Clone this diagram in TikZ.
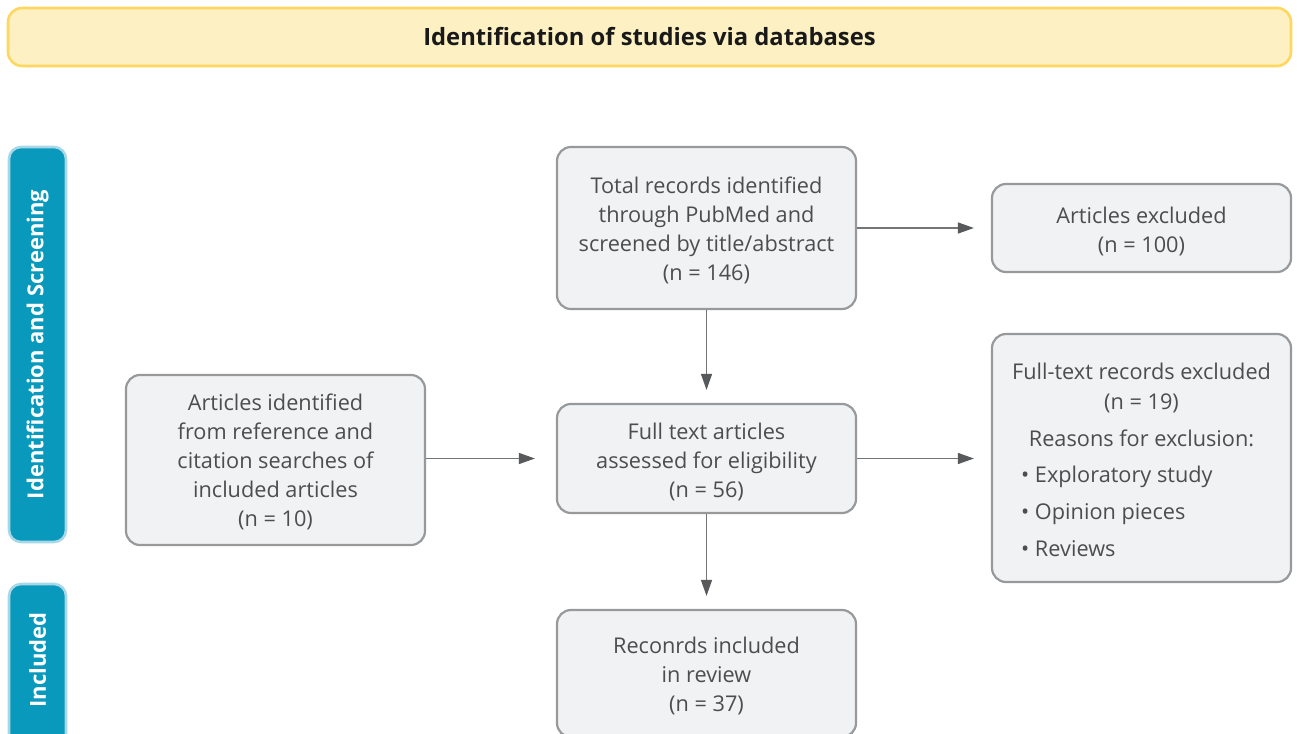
\documentclass[tikz,border=0pt]{standalone}
\usepackage{fontspec}
\setmainfont{Open Sans}
\usetikzlibrary{arrows.meta}
\definecolor{hdrfill}{HTML}{FDF1C4}
\definecolor{hdrline}{HTML}{FFD75E}
\definecolor{barfill}{HTML}{0899BC}
\definecolor{barline}{HTML}{A8D8E8}
\definecolor{boxfill}{HTML}{F1F2F4}
\definecolor{boxline}{HTML}{98999B}
\definecolor{boxtext}{HTML}{4D4D4F}
\definecolor{arrowcol}{HTML}{58595B}
\definecolor{shaftcol}{HTML}{747577}
\begin{document}
\begin{tikzpicture}[x=1pt,y=1pt,
  header/.style={draw=hdrline, line width=2.6pt, fill=hdrfill, rounded corners=14pt,
    minimum width=1283pt, minimum height=58pt, inner sep=0pt,
    font=\fontsize{23.8}{28}\selectfont\bfseries, text=black!90},
  phase/.style={draw=barline, line width=2.6pt, fill=barfill, rounded corners=12pt,
    rotate=90, minimum height=57pt, inner sep=0pt, text=white,
    font=\fontsize{22}{26}\selectfont\bfseries},
  stepbox/.style={draw=boxline, line width=2.2pt, fill=boxfill, rounded corners=14pt,
    minimum width=299pt, inner sep=0pt, align=center, text=boxtext,
    font=\fontsize{21.7}{29}\selectfont},
  boxtxt/.style={align=center, text=boxtext, inner sep=0pt,
    font=\fontsize{21.7}{29}\selectfont},
  boxline/.style={text=boxtext, font=\fontsize{21.7}{26}\selectfont, inner sep=0pt},
  arr/.style={draw=shaftcol, line width=1.3pt,
    -{Triangle[length=16pt,width=11pt,color=arrowcol]}}
]
\useasboundingbox (0,0) rectangle (1297,-733);

% title banner
\node[header] (title) at (649.5,-37) {Identification of studies via databases};

% phase bars on the left
\node[phase, minimum width=395pt] (idscr) at (37.5,-344.5) {Identification and Screening};
\node[phase, minimum width=170pt] (incl) at (37.5,-669) {};
\node[text=white, font=\fontsize{22}{26}\selectfont\bfseries, rotate=90, inner sep=0pt]
  (incltext) at (37.5,-660) {Included};

% flow boxes
\node[stepbox, minimum height=162pt] (total) at (706.5,-228)
  {};
\node[boxtxt] (totaltxt) at (706.5,-230)
  {Total records identified\\through PubMed and\\screened by title/abstract\\(n = 146)};
\node[stepbox, minimum height=88pt] (excl) at (1141.5,-228) {};
\node[boxtxt] (excltxt) at (1141.5,-231) {Articles excluded\\(n = 100)};
\node[stepbox, minimum height=170pt] (refs) at (275.5,-460) {};
\node[boxtxt] (refstxt) at (275.5,-462)
  {Articles identified\\from reference and\\citation searches of\\included articles\\(n = 10)};
\node[stepbox, minimum height=109pt] (full) at (706.5,-458.5) {};
\node[boxtxt] (fulltxt) at (706.5,-462)
  {Full text articles\\assessed for eligibility\\(n = 56)};
\node[stepbox, minimum height=248pt] (ftexcl) at (1141.5,-458) {};
\node[stepbox, minimum height=127pt] (review) at (706.5,-673.5) {};
\node[boxtxt] (reviewtxt) at (706.5,-676)
  {Reconrds included\\in review\\(n = 37)};

% contents of the exclusion box
\node[boxline, anchor=mid] (fx1) at (1141.5,-377) {Full-text records excluded};
\node[boxline, anchor=mid] (fx2) at (1141.5,-407) {(n = 19)};
\node[boxline, anchor=mid] (fx3) at (1141.5,-444) {Reasons for exclusion:};
\node[boxline, anchor=mid west] (fx4) at (1021,-480) {\textbullet\ Exploratory study};
\node[boxline, anchor=mid west] (fx5) at (1021,-517) {\textbullet\ Opinion pieces};
\node[boxline, anchor=mid west] (fx6) at (1021,-554) {\textbullet\ Reviews};

% connectors
\draw[arr, shorten >=17pt] (total.east) -- (total.east -| excl.west);
\draw[arr, shorten >=13pt] (total.south) -- (full.north);
\draw[arr, shorten >=21pt] (refs.east |- full.west) -- (full.west);
\draw[arr, shorten >=17pt] (full.east) -- (full.east -| ftexcl.west);
\draw[arr, shorten >=13pt] (full.south) -- (review.north);
\end{tikzpicture}
\end{document}
